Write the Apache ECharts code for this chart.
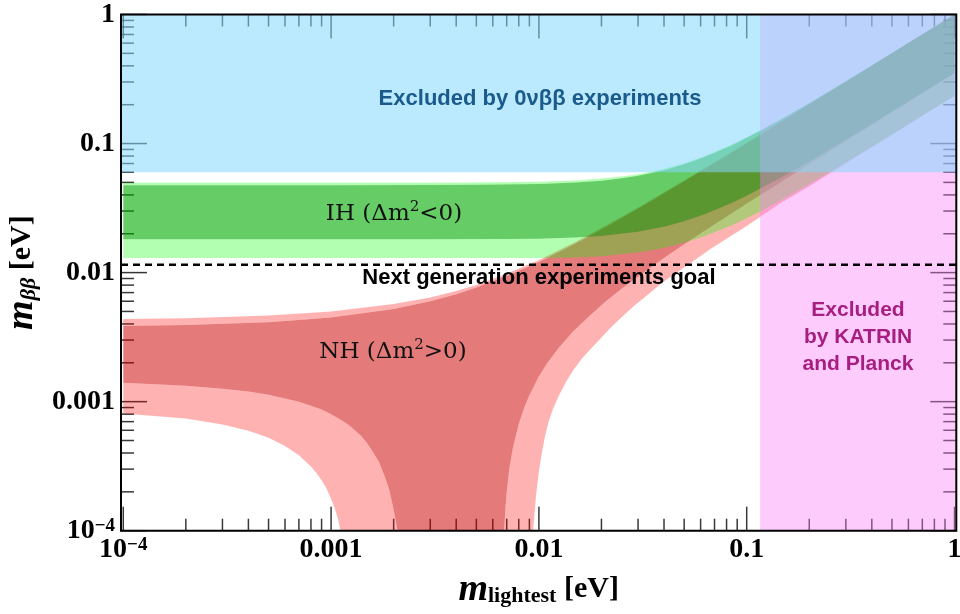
<!DOCTYPE html>
<html><head><meta charset="utf-8">
<script src="https://cdn.jsdelivr.net/npm/echarts@6/dist/echarts.min.js"></script>
<style>html,body{margin:0;padding:0;background:#fff}#c{width:960px;height:614px}</style>
</head><body><div id="c"></div>
<script>
// ---------------- data ----------------
const xRange = [9.75e-5, 1.02];
const yRange = [1e-4, 1];
const majorTicks = [1e-4, 1e-3, 1e-2, 1e-1, 1];
const minorMultipliers = [2, 3, 4, 5, 6, 7, 8, 9];
const xTickLabels = ['10^-4', '0.001', '0.01', '0.1', '1'];
const yTickLabels = ['10^-4', '0.001', '0.01', '0.1', '1'];

// Inverted hierarchy band boundaries [m_lightest, m_bb]
const ihLightUp = [[1e-4,0.0496],[1e-3,0.0496],[3e-3,0.0497],[5e-3,0.0499],[0.01,0.0506],[0.015,0.0518],[0.02,0.0535],[0.025,0.0555],[0.03,0.0579],[0.04,0.0637],[0.05,0.0705],[0.06,0.0780],[0.07,0.0861],[0.085,0.0986],[0.1,0.1117],[0.12,0.1300],[0.15,0.1582],[0.2,0.2063],[0.3,0.3045],[0.5,0.5028],[0.7,0.702],[1,1.0]];
const ihDarkUp = [[1e-4,0.0476],[1e-3,0.0476],[3e-3,0.0477],[5e-3,0.0479],[0.01,0.0486],[0.015,0.0499],[0.02,0.0516],[0.025,0.0538],[0.03,0.0563],[0.04,0.0622],[0.05,0.0690],[0.06,0.0766],[0.07,0.0847],[0.085,0.0972],[0.1,0.1108],[0.12,0.1290],[0.15,0.1574],[0.2,0.2056],[0.3,0.3038],[0.5,0.5023],[0.7,0.7016],[1,0.999]];
const ihDarkLo = [[1e-4,0.0181],[3e-3,0.0181],[7e-3,0.0182],[0.01,0.0183],[0.015,0.0187],[0.02,0.0192],[0.03,0.0207],[0.04,0.0227],[0.05,0.0250],[0.06,0.0276],[0.07,0.0304],[0.085,0.0347],[0.1,0.0394],[0.12,0.0460],[0.15,0.0557],[0.2,0.0726],[0.3,0.1071],[0.5,0.1769],[0.7,0.2470],[1,0.352]];
const ihLightLo = [[1e-4,0.0130],[0.01,0.0130],[0.015,0.0131],[0.02,0.0134],[0.03,0.0143],[0.04,0.0155],[0.05,0.0170],[0.06,0.0187],[0.07,0.0205],[0.085,0.0233],[0.1,0.0264],[0.12,0.0306],[0.15,0.0371],[0.2,0.0483],[0.3,0.0712],[0.5,0.1175],[0.7,0.164],[1,0.234]];

// Normal hierarchy band boundaries
const nhLightUp = [[1e-4,0.00436],[2e-4,0.00443],[5e-4,0.00465],[1e-3,0.0050],[2e-3,0.0057],[3e-3,0.0064],[4e-3,0.0072],[5e-3,0.0080],[7e-3,0.0098],[0.01,0.0125],[0.015,0.0173],[0.02,0.0222],[0.03,0.0320],[0.05,0.0518],[0.07,0.0716],[0.1,0.1013],[0.15,0.1515],[0.2,0.202],[0.3,0.302],[0.5,0.502],[0.7,0.702],[1,1.0]];
const nhDarkUp = [[1e-4,0.00385],[2e-4,0.00392],[5e-4,0.00413],[1e-3,0.00449],[2e-3,0.00523],[3e-3,0.0060],[4e-3,0.0068],[5e-3,0.00765],[7e-3,0.0094],[0.01,0.0121],[0.015,0.0168],[0.02,0.0216],[0.03,0.0313],[0.05,0.0510],[0.07,0.0707],[0.1,0.1003],[0.15,0.1503],[0.2,0.2003],[0.3,0.3002],[0.5,0.5001],[0.7,0.7],[1,0.999]];
const nhDarkLo = [[1e-4,0.0014],[2e-4,0.00133],[3e-4,0.00126],[4e-4,0.0012],[5e-4,0.00113],[6e-4,0.00106],[7e-4,0.001],[8e-4,0.00093],[9e-4,0.00087],[1.0e-3,0.0008],[1.1e-3,0.00073],[1.2e-3,0.00067],[1.3e-3,0.0006],[1.4e-3,0.00054],[1.5e-3,0.00047],[1.6e-3,0.0004],[1.7e-3,0.00034],[1.8e-3,0.00027],[1.85e-3,0.00024],[1.9e-3,0.00021],[1.95e-3,0.000175],[2.0e-3,0.000145],[2.05e-3,0.000118],[2.09e-3,0.0001],
  [0.0068,0.0001],[0.0069,0.00015],[0.0070,0.0002],[0.0072,0.0003],[0.0075,0.00044],[0.008,0.00067],[0.0085,0.0009],[0.009,0.00112],[0.01,0.00157],[0.011,0.002],[0.0125,0.00263],[0.0146,0.0035],[0.0175,0.0046],[0.021,0.006],[0.025,0.0075],[0.03,0.0093],[0.04,0.013],[0.05,0.0166],[0.07,0.0236],[0.1,0.0341],[0.15,0.0515],[0.2,0.069],[0.3,0.104],[0.5,0.174],[0.7,0.244],[1,0.35]];
const nhLightLo = [[1e-4,0.00081],[2e-4,0.00074],[3e-4,0.000666],[4e-4,0.000595],[5e-4,0.000524],[6e-4,0.000454],[7e-4,0.000385],[8e-4,0.000315],[8.5e-4,0.00028],[9e-4,0.000246],[9.5e-4,0.000212],[1.0e-3,0.000177],[1.04e-3,0.00015],[1.08e-3,0.000123],[1.11e-3,0.0001],
  [0.00937,0.0001],[0.0095,0.00013],[0.0097,0.00019],[0.0100,0.00029],[0.0103,0.00039],[0.0107,0.00054],[0.0111,0.00069],[0.0117,0.00088],[0.0125,0.00112],[0.0135,0.00142],[0.0146,0.00174],[0.016,0.00213],[0.0175,0.0025],[0.0195,0.0030],[0.022,0.0037],[0.025,0.0045],[0.029,0.0056],[0.034,0.0069],[0.039,0.0083],[0.049,0.0107],[0.068,0.0155],[0.1,0.0230],[0.145,0.0344],[0.2,0.0466],[0.3,0.0705],[0.5,0.117],[0.7,0.164],[1,0.234]];

// Excluded regions and goal
const excluded0vbbMin = 0.06;      // m_bb above this excluded
const excludedKatrinMin = 0.116;   // m_lightest above this excluded
const nextGenGoal = 0.0115;

// ---------------- chart ----------------
const SERIF = '"Liberation Serif", "Times New Roman", serif';
const SANS = '"Liberation Sans", Arial, Helvetica, sans-serif';

function decadeFormatter(labels) {
  return function (v) {
    const l = Math.log10(v), r = Math.round(l);
    if (Math.abs(l - r) > 1e-3) return '';
    const t = labels[r + 4];
    if (t === undefined) return '';
    if (t.indexOf('^') >= 0) {
      const parts = t.split('^');
      return '{b|' + parts[0] + '}{s|' + parts[1].replace('-', '\u2212') + '}';
    }
    return '{b|' + t + '}';
  };
}
const labelRich = {
  b: { fontFamily: SERIF, fontWeight: 'bold', fontSize: 28, lineHeight: 28, color: '#000' },
  s: { fontFamily: SERIF, fontWeight: 'bold', fontSize: 19, lineHeight: 14, verticalAlign: 'top', color: '#000' }
};

function polySeries(upper, lower, color) {
  return {
    type: 'custom', coordinateSystem: 'cartesian2d', silent: true, clip: true,
    data: [[upper[0][0], upper[0][1]]],
    renderItem: function (params, api) {
      const pts = upper.map(function (p) { return api.coord(p); })
        .concat(lower.slice().reverse().map(function (p) { return api.coord(p); }));
      return { type: 'polygon', shape: { points: pts }, style: { fill: color } };
    }
  };
}
function rectSeries(x0, y0, x1, y1, color) {
  return {
    type: 'custom', coordinateSystem: 'cartesian2d', silent: true, clip: true,
    data: [[x0, y0]],
    renderItem: function (params, api) {
      const a = api.coord([x0, y0]), b = api.coord([x1, y1]);
      return { type: 'rect', shape: { x: Math.min(a[0], b[0]), y: Math.min(a[1], b[1]), width: Math.abs(b[0] - a[0]), height: Math.abs(b[1] - a[1]) }, style: { fill: color } };
    }
  };
}

const tickSeries = {
  type: 'custom', coordinateSystem: 'cartesian2d', silent: true, clip: false,
  data: [[0.01, 0.01]],
  renderItem: function (params, api) {
    const children = [];
    const style = { stroke: 'rgba(0,0,0,0.78)', lineWidth: 1.5 };
    function add(v, major) {
      const lx = major ? 24 : 12, ly = major ? 26 : 13;
      if (v >= xRange[0] && v <= xRange[1]) {
        const b = api.coord([v, yRange[0]]), t = api.coord([v, yRange[1]]);
        children.push({ type: 'line', shape: { x1: b[0], y1: b[1], x2: b[0], y2: b[1] - lx }, style: style });
        children.push({ type: 'line', shape: { x1: t[0], y1: t[1], x2: t[0], y2: t[1] + lx }, style: style });
      }
      if (v >= yRange[0] && v <= yRange[1]) {
        const l = api.coord([xRange[0], v]), r = api.coord([xRange[1], v]);
        children.push({ type: 'line', shape: { x1: l[0], y1: l[1], x2: l[0] + ly, y2: l[1] }, style: style });
        children.push({ type: 'line', shape: { x1: r[0], y1: r[1], x2: r[0] - ly, y2: r[1] }, style: style });
      }
    }
    majorTicks.forEach(function (m) {
      add(m, true);
      if (m < 1) minorMultipliers.forEach(function (k) { add(m * k, false); });
    });
    return { type: 'group', children: children };
  }
};

const frameSeries = {
  type: 'custom', coordinateSystem: 'cartesian2d', silent: true, clip: false, z: 10,
  data: [[0.01, 0.01]],
  renderItem: function (params, api) {
    const a = api.coord([xRange[0], yRange[0]]), b = api.coord([xRange[1], yRange[1]]);
    return { type: 'rect', shape: { x: a[0], y: b[1], width: b[0] - a[0], height: a[1] - b[1] }, style: { fill: 'none', stroke: '#000', lineWidth: 2 } };
  }
};

const goalSeries = {
  type: 'line', silent: true, symbol: 'none', clip: true,
  data: [[xRange[0], nextGenGoal], [xRange[1], nextGenGoal]],
  lineStyle: { color: '#000', width: 2.5, type: [7, 5] }
};

const titleRich = function (italicSub) {
  return {
    m: { fontFamily: SERIF, fontStyle: 'italic', fontWeight: 'bold', fontSize: 38, lineHeight: 36, color: '#000' },
    sub: { fontFamily: SERIF, fontStyle: italicSub ? 'italic' : 'normal', fontWeight: 'bold', fontSize: 22, lineHeight: 14, verticalAlign: 'bottom', color: '#000' },
    u: { fontFamily: SERIF, fontWeight: 'bold', fontSize: 30, lineHeight: 36, color: '#000' }
  };
};

const chart = echarts.init(document.getElementById('c'), null, { renderer: 'canvas' });
chart.setOption({
  animation: false,
  backgroundColor: '#fff',
  grid: { left: 121, right: 3.7, top: 14.5, bottom: 83.3, containLabel: false, outerBoundsMode: 'none' },
  xAxis: {
    type: 'log', logBase: 10, min: xRange[0], max: xRange[1],
    axisLine: { show: false }, axisTick: { show: false }, splitLine: { show: false },
    axisLabel: { formatter: decadeFormatter(xTickLabels), rich: labelRich, margin: 5, showMinLabel: false, showMaxLabel: false, hideOverlap: false },
    name: '{m|m}{sub|lightest}{u| [eV]}', nameLocation: 'middle', nameGap: 41,
    nameTextStyle: { rich: titleRich(false) }
  },
  yAxis: {
    type: 'log', logBase: 10, min: yRange[0], max: yRange[1],
    axisLine: { show: false }, axisTick: { show: false }, splitLine: { show: false },
    axisLabel: { formatter: decadeFormatter(yTickLabels), rich: labelRich, margin: 6, hideOverlap: false },
    name: '{m|m}{sub|\u03b2\u03b2}{u| [eV]}', nameLocation: 'middle', nameGap: 80, nameRotate: 90,
    nameTextStyle: { rich: titleRich(true) }
  },
  series: [
    tickSeries,
    polySeries(nhLightUp, nhDarkUp, 'rgba(255,0,0,0.3)'),
    polySeries(nhDarkLo, nhLightLo, 'rgba(255,0,0,0.3)'),
    polySeries(nhDarkUp, nhDarkLo, 'rgba(204,0,0,0.52)'),
    polySeries(ihLightUp, ihDarkUp, 'rgba(0,255,0,0.3)'),
    polySeries(ihDarkLo, ihLightLo, 'rgba(0,255,0,0.3)'),
    polySeries(ihDarkUp, ihDarkLo, 'rgba(0,170,0,0.6)'),
    goalSeries,
    rectSeries(excludedKatrinMin, yRange[0], xRange[1], yRange[1], 'rgba(250,127,250,0.4)'),
    rectSeries(xRange[0], excluded0vbbMin, xRange[1], yRange[1], 'rgba(131,215,251,0.55)'),
    frameSeries
  ],
  graphic: [
    { type: 'text', z: 100, x: 540, y: 99, style: { text: 'Excluded by 0\u03bd\u03b2\u03b2 experiments', font: 'bold 22px ' + SANS, fill: '#1b5b8c', align: 'center', verticalAlign: 'middle' } },
    { type: 'text', z: 100, x: 394, y: 214, style: { text: '{t|IH (\u0394m}{s|2}{t|<0)}', align: 'center', verticalAlign: 'middle',
        rich: { t: { fontFamily: '"DejaVu Serif", serif', fontSize: 23, lineHeight: 28, fill: '#111' }, s: { fontFamily: '"DejaVu Serif", serif', fontSize: 15, lineHeight: 14, verticalAlign: 'top', fill: '#111' } } } },
    { type: 'text', z: 100, x: 393, y: 352, style: { text: '{t|NH (\u0394m}{s|2}{t|>0)}', align: 'center', verticalAlign: 'middle',
        rich: { t: { fontFamily: '"DejaVu Serif", serif', fontSize: 23, lineHeight: 28, fill: '#111' }, s: { fontFamily: '"DejaVu Serif", serif', fontSize: 15, lineHeight: 14, verticalAlign: 'top', fill: '#111' } } } },
    { type: 'text', z: 100, x: 539, y: 278, style: { text: 'Next generation experiments goal', font: 'bold 22px ' + SANS, fill: '#000', align: 'center', verticalAlign: 'middle' } },
    { type: 'text', z: 100, x: 858, y: 337, style: { text: 'Excluded\nby KATRIN\nand Planck', font: 'bold 21px ' + SANS, lineHeight: 27, fill: '#a61e80', align: 'center', verticalAlign: 'middle' } }
  ]
});
</script></body></html>
